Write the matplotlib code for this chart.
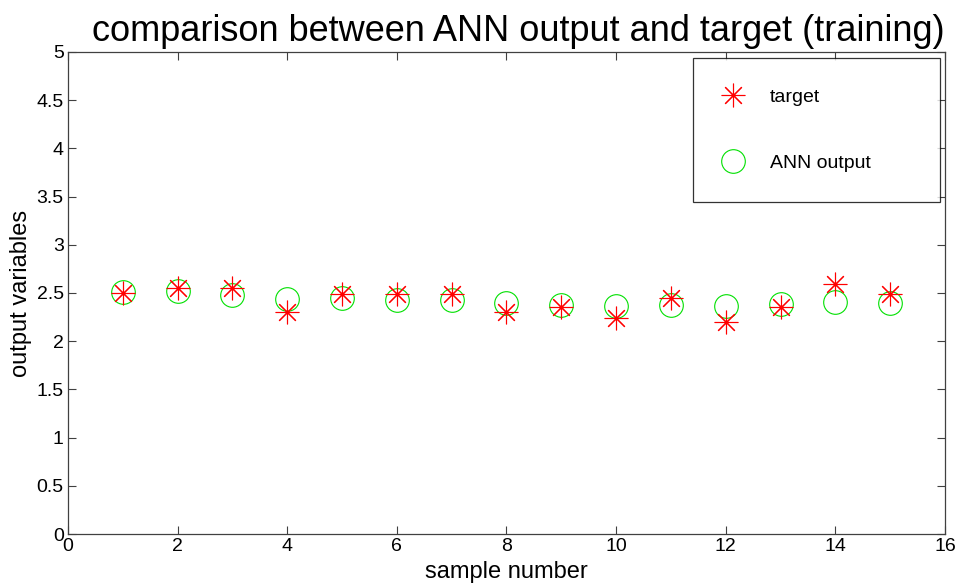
import numpy as np
import matplotlib.pyplot as plt

plt.rcParams['font.family'] = ['Liberation Sans', 'DejaVu Sans']

# samples used for training
sample = np.arange(1, 16)
target = [2.50, 2.55, 2.55, 2.30, 2.49, 2.49, 2.49, 2.30, 2.35, 2.24, 2.45, 2.20, 2.35, 2.59, 2.49]
ann_out = [2.51, 2.52, 2.48, 2.44, 2.45, 2.43, 2.43, 2.40, 2.38, 2.36, 2.38, 2.36, 2.39, 2.41, 2.40]

xticks = np.arange(0, 17, 2)
yticks = np.arange(0, 5.01, 0.5)
ytick_labels = ['0', '0.5', '1', '1.5', '2', '2.5', '3', '3.5', '4', '4.5', '5']

fig = plt.figure(figsize=(9.55, 5.86), dpi=100)
ax = fig.add_axes([0.0712, 0.0887, 0.9183, 0.8228])

star = (8, 2, 0)
ax.plot(sample, target, linestyle='none', marker=star, markersize=17,
        markeredgewidth=0.8, color='#ff0000', label='target', zorder=3)
ax.plot(sample, ann_out, linestyle='none', marker='o', markersize=17,
        markeredgewidth=0.8, markerfacecolor='none', markeredgecolor='#00e000',
        label='ANN output', zorder=2)

ax.set_xlim(0, 16)
ax.set_ylim(0, 5)
ax.set_xticks(xticks)
ax.set_yticks(yticks)
ax.set_yticklabels(ytick_labels)
ax.tick_params(direction='in', length=6, width=0.8, top=True, right=True,
               labelsize=14, colors='#404040', labelcolor='black', pad=3)
for s in ax.spines.values():
    s.set_color('#404040')
    s.set_linewidth(0.9)

ax.set_xlabel('sample number', fontsize=17, labelpad=4)
ax.set_ylabel('output variables', fontsize=17, labelpad=3)
ax.set_title('comparison between ANN output and target (training)', fontsize=26,
             pad=8, x=0.513)

# legend box stretched across its anchor width, entries stay on the left
leg = ax.legend(loc='upper left', bbox_to_anchor=(0.7127, 0.987, 0.2816, 0.0),
                mode='expand', borderaxespad=0,
                fontsize=14, frameon=True, fancybox=False, edgecolor='black',
                labelspacing=2.5, borderpad=1.55, handlelength=1.0, handletextpad=1.4,
                markerscale=1.0)
leg.get_frame().set_linewidth(0.9)

plt.savefig('out.png', dpi=100)
